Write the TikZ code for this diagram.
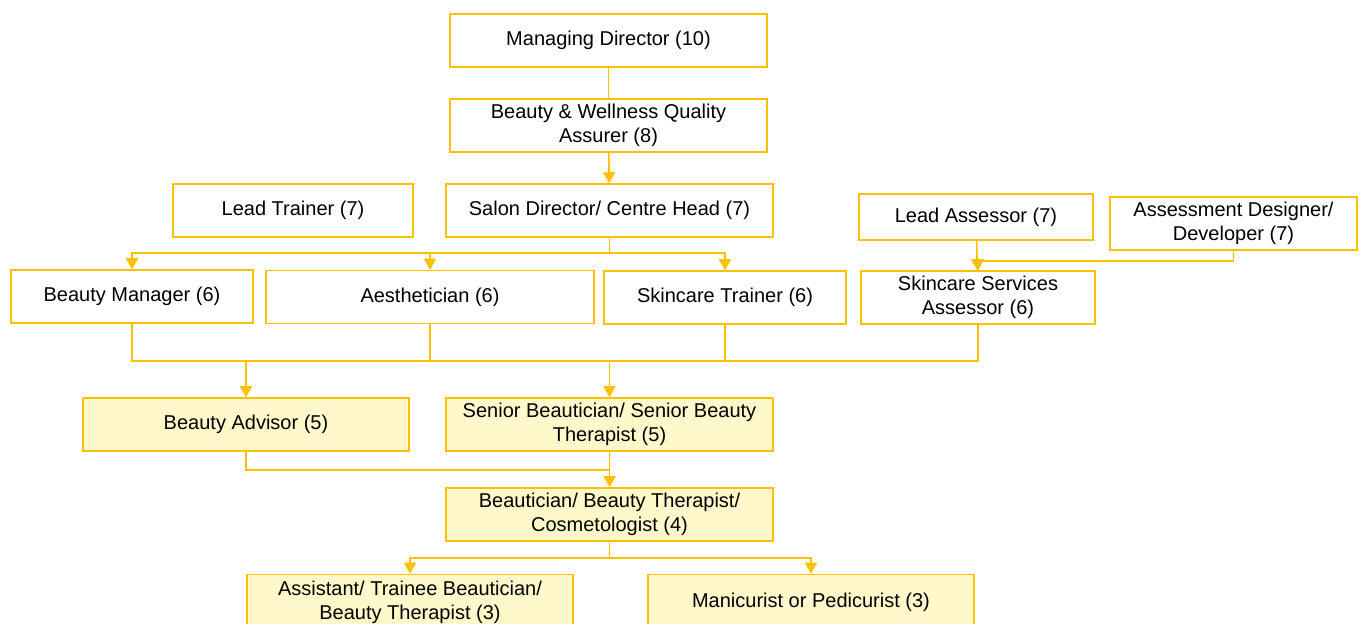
\documentclass[tikz,border=0pt]{standalone}
\usepackage{fontspec}
\setmainfont{Liberation Sans}
\usepackage{tikz}
\usetikzlibrary{arrows.meta}
\usepackage{xcolor}
\definecolor{gold}{HTML}{FFC000}
\definecolor{paleyellow}{HTML}{FFF8CA}

\begin{document}
\begin{tikzpicture}[x=0.5pt,y=-0.5pt,font=\fontsize{10}{12}\selectfont]
  \tikzstyle{role}=[draw=gold,line width=0.75pt,rectangle,align=center,inner sep=0pt,minimum height=26.5pt]
  \tikzstyle{core role}=[role,fill=paleyellow]
  \tikzstyle{link}=[draw=gold,line width=0.8pt]
  \tikzstyle{arrow}=[link,-{Triangle[length=5.5pt,width=6pt]}]

  \useasboundingbox (0,0) rectangle (1360,624);

  % levels 10 to 7
  \node[role,minimum width=158.5pt] (md)   at (608.5,40.5)  {Managing Director (10)};
  \node[role,minimum width=158.5pt] (bwqa) at (608.5,125.5) {Beauty \& Wellness Quality\\Assurer (8)};
  \node[role,minimum width=120pt]   (lt)   at (293,210.5)   {Lead Trainer (7)};
  \node[role,minimum width=163.5pt] (sd)   at (609.5,210.5) {Salon Director/ Centre Head (7)};
  \node[role,minimum width=117pt,minimum height=23pt] (la) at (976,217) {Lead Assessor (7)};
  \node[role,minimum width=123.5pt] (add)  at (1233.5,223.5) {Assessment Designer/\\Developer (7)};

  % level 6
  \node[role,minimum width=121pt]   (bm)   at (132,296.5)   {Beauty Manager (6)};
  \node[role,minimum width=164pt]   (aes)  at (430,297)     {Aesthetician (6)};
  \node[role,minimum width=121pt]   (skt)  at (725,297.5)   {Skincare Trainer (6)};
  \node[role,minimum width=117pt]   (ssa)  at (978,297.5)   {Skincare Services\\Assessor (6)};

  % levels 5 to 3
  \node[core role,minimum width=163pt]   (ba)   at (246,424.5)   {Beauty Advisor (5)};
  \node[core role,minimum width=163.5pt] (sbt)  at (609.5,424.5) {Senior Beautician/ Senior Beauty\\Therapist (5)};
  \node[core role,minimum width=163.5pt] (bt)   at (609.5,514.5) {Beautician/ Beauty Therapist/\\Cosmetologist (4)};
  \node[core role,minimum width=163pt,minimum height=27.5pt] (asst) at (410,602) {Assistant/ Trainee Beautician/\\Beauty Therapist (3)};
  \node[core role,minimum width=163pt,minimum height=27.5pt] (mani) at (811,602) {Manicurist or Pedicurist (3)};

  \coordinate (bus1) at (609.5,253);
  \coordinate (join) at (978,261);
  \coordinate (bus2) at (609.5,361);
  \coordinate (bus3) at (609.5,470);
  \coordinate (bus4) at (609.5,558);

  \draw[link]  (md) -- (bwqa);
  \draw[arrow] (bwqa) -- (sd);
  \draw[link]  (sd) -- (bus1);
  \draw[arrow] (bus1) -| (bm);
  \draw[arrow] (bus1) -| (aes);
  \draw[arrow] (bus1) -| (skt);
  \draw[arrow] (la) -- (ssa);
  \draw[link]  (add) |- (join);
  \draw[arrow] (join) -- (ssa);

  \draw[link]  (bm) |- (bus2);
  \draw[link]  (aes) -- (aes |- bus2);
  \draw[link]  (skt) -- (skt |- bus2);
  \draw[link]  (ssa) |- (bus2);
  \draw[arrow] (bus2) -| (ba);
  \draw[arrow] (bus2) -- (sbt);

  \draw[link]  (ba) |- (bus3);
  \draw[arrow] (sbt) -- (bt);
  \draw[link]  (bt) -- (bus4);
  \draw[arrow] (bus4) -| (asst);
  \draw[arrow] (bus4) -| (mani);
\end{tikzpicture}
\end{document}
